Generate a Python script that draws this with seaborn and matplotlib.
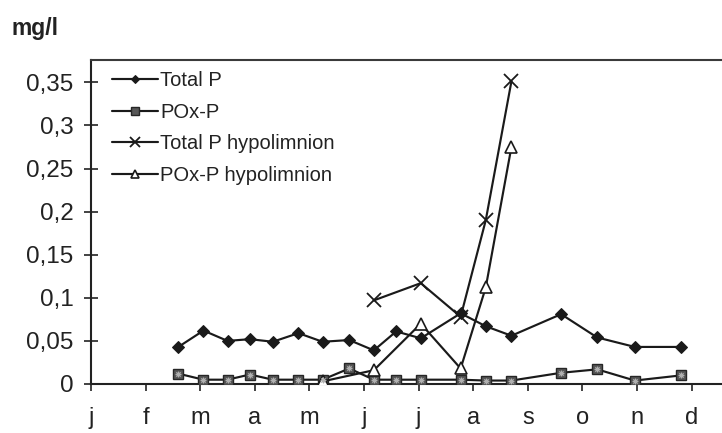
import matplotlib
matplotlib.use("Agg")
import matplotlib.pyplot as plt
import seaborn as sns
import pandas as pd

# Sampling dates expressed as position on the month axis (0 = start of January)
sample_month = [1.60, 2.06, 2.50, 2.91, 3.33, 3.80, 4.24, 4.73, 5.18, 5.59,
                6.04, 6.77, 7.23, 7.70, 8.61, 9.27, 9.96, 10.81]
total_p = [0.043, 0.062, 0.050, 0.052, 0.049, 0.059, 0.049, 0.051, 0.039, 0.061,
           0.053, 0.082, 0.067, 0.056, 0.081, 0.054, 0.043, 0.043]
pox_p = [0.012, 0.005, 0.005, 0.011, 0.005, 0.005, 0.005, 0.018, 0.005, 0.005,
         0.005, 0.005, 0.004, 0.004, 0.013, 0.017, 0.004, 0.010]

hypo_total_month = [5.18, 6.04, 6.77, 7.23, 7.70]
hypo_total_p = [0.097, 0.117, 0.078, 0.190, 0.351]

hypo_pox_month = [4.24, 5.18, 6.04, 6.77, 7.23, 7.70]
hypo_pox_p = [0.003, 0.016, 0.070, 0.018, 0.112, 0.275]

month_labels = ["j", "f", "m", "a", "m", "j", "j", "a", "s", "o", "n", "d"]
y_ticks = [0, 0.05, 0.1, 0.15, 0.2, 0.25, 0.3, 0.35]
y_tick_labels = ["0", "0,05", "0,1", "0,15", "0,2", "0,25", "0,3", "0,35"]

sns.set_theme(style="white")
plt.rcParams["font.family"] = ["Liberation Sans", "DejaVu Sans"]

ink = "#1a1a1a"
lw = 1.55

fig = plt.figure(figsize=(7.22, 4.33), dpi=100)
ax = fig.add_axes([91 / 722, 1 - 384 / 433, (722 - 91) / 722, (384 - 60) / 433])

surface = pd.DataFrame({"month": sample_month, "total": total_p, "pox": pox_p})
hypo_t = pd.DataFrame({"month": hypo_total_month, "value": hypo_total_p})
hypo_o = pd.DataFrame({"month": hypo_pox_month, "value": hypo_pox_p})

sns.lineplot(data=surface, x="month", y="total", ax=ax, color=ink, lw=lw,
             marker="D", markersize=6, markeredgecolor=ink, markerfacecolor=ink,
             label="Total P", zorder=3)
sns.lineplot(data=surface, x="month", y="pox", ax=ax, color=ink, lw=lw,
             marker="s", markersize=7.6, markeredgecolor="#262626",
             markerfacecolor="#575757", markeredgewidth=1.0,
             label="POx-P", zorder=3)
# light speckle inside the square markers
sns.scatterplot(data=surface, x="month", y="pox", ax=ax, marker=(8, 2, 0),
                s=12, color="#b0b0b0", linewidth=0.7, zorder=4, legend=False)
sns.lineplot(data=hypo_t, x="month", y="value", ax=ax, color=ink, lw=lw,
             marker="x", markersize=9.5, markeredgecolor=ink, markeredgewidth=1.3,
             label="Total P hypolimnion", zorder=3)
sns.lineplot(data=hypo_o, x="month", y="value", ax=ax, color=ink, lw=lw,
             marker="^", markersize=8.5, markeredgecolor=ink,
             markerfacecolor="white", markeredgewidth=1.2,
             label="POx-P hypolimnion", zorder=3)

ax.set_xlim(0, (722 - 91) / 54.6)
ax.set_ylim(0, (384 - 60) / 862)
ax.set_xticks(range(12))
ax.set_xticklabels(month_labels)
ax.set_yticks(y_ticks)
ax.set_yticklabels(y_tick_labels)
ax.set_xlabel("")
ax.set_ylabel("")

for side in ["left", "bottom"]:
    ax.spines[side].set_color("#222222")
    ax.spines[side].set_linewidth(1.5)
ax.spines["top"].set_color("#3a3a3a")
ax.spines["top"].set_linewidth(1.5)
ax.spines["right"].set_visible(False)

ax.tick_params(axis="y", direction="inout", length=10, width=1.2,
               color="#222222", labelsize=17.5, pad=7.5, left=True,
               labelcolor="#222222")
ax.tick_params(axis="x", direction="out", length=5, width=1.2,
               color="#222222", labelsize=17, pad=11.5, bottom=True,
               labelcolor="#222222")

h, l = ax.get_legend_handles_labels()
leg = ax.legend(h, l, loc="upper left", bbox_to_anchor=(0.033, 0.965),
                frameon=False, fontsize=14.5, handlelength=2.3,
                handletextpad=0.1, labelspacing=0.62, borderpad=0,
                borderaxespad=0, markerscale=0.75)
for t in leg.get_texts():
    t.set_color("#222222")

fig.text(11.5 / 722, 1 - 35 / 433, "mg/l", fontsize=16.5, fontweight="bold",
         color="#222222", ha="left", va="baseline")

fig.savefig("out.png", dpi=100, facecolor="white")
